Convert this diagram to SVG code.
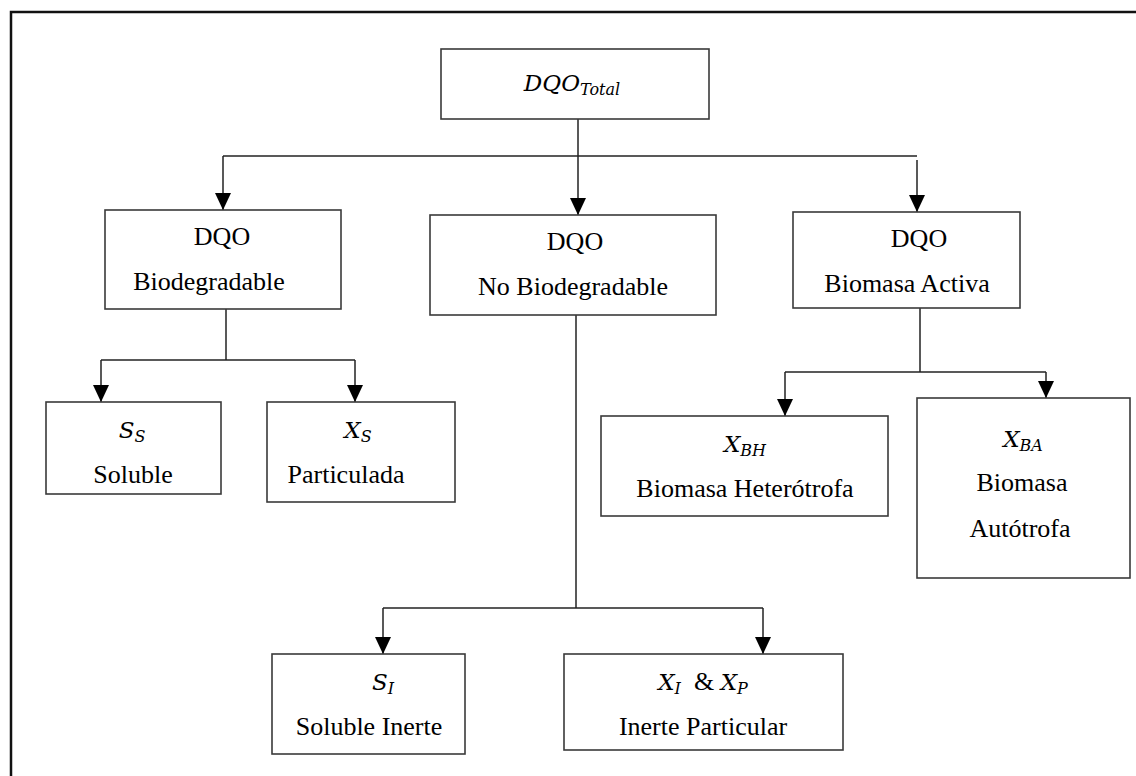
<svg xmlns="http://www.w3.org/2000/svg" width="1136" height="776" viewBox="0 0 1136 776">
  <defs>
    <marker id="arrow" viewBox="0 0 17 16" refX="17" refY="8" markerWidth="17" markerHeight="16" markerUnits="userSpaceOnUse" orient="auto">
      <path d="M0,0 L17,8 L0,16 z" fill="#000"/>
    </marker>
    <style>
      .frame { fill: none; stroke: #111; stroke-width: 2.5; }
      .box { fill: #fff; stroke: #3a3a3a; stroke-width: 1.6; }
      .wire { fill: none; stroke: #222; stroke-width: 1.5; }
      .arrow { marker-end: url(#arrow); }
      .t { font-family: "Liberation Serif", "Times New Roman", serif; font-size: 26px; fill: #000; text-anchor: middle; }
      .m { font-family: "DejaVu Serif", "Liberation Serif", serif; font-style: italic; font-size: 23px; fill: #000; text-anchor: middle; }
      .sub { font-size: 16px; }
      .amp { font-family: "Liberation Serif", "Times New Roman", serif; font-style: normal; font-size: 26px; }
    </style>
  </defs>

  <rect width="1136" height="776" fill="#fff"/>
  <!-- page frame, open on the right and bottom -->
  <path class="frame" d="M11,778 V12 H1140"/>

  <g id="connectors">
    <!-- total split -->
    <path class="wire" d="M578,119 V156"/>
    <path class="wire" d="M223,156 H917"/>
    <path class="wire arrow" d="M223,156 V210"/>
    <path class="wire arrow" d="M578,156 V215"/>
    <path class="wire arrow" d="M917,160 V212"/>
    <!-- biodegradable split -->
    <path class="wire" d="M226,309 V360"/>
    <path class="wire" d="M101,360 H355"/>
    <path class="wire arrow" d="M101,360 V402"/>
    <path class="wire arrow" d="M355,360 V402"/>
    <!-- non-biodegradable split -->
    <path class="wire" d="M576,315 V608"/>
    <path class="wire" d="M383,608 H763"/>
    <path class="wire arrow" d="M383,608 V654"/>
    <path class="wire arrow" d="M763,608 V654"/>
    <!-- active biomass split -->
    <path class="wire" d="M920,308 V372"/>
    <path class="wire" d="M785,372 H1046"/>
    <path class="wire arrow" d="M785,372 V416"/>
    <path class="wire arrow" d="M1046,372 V398"/>
  </g>

  <g id="dqo-total">
    <rect class="box" x="441" y="49" width="268" height="70"/>
    <text class="m" x="572" y="91">DQO<tspan class="sub" dy="4">Total</tspan></text>
  </g>

  <g id="dqo-biodegradable">
    <rect class="box" x="105" y="210" width="236" height="99"/>
    <text class="t" x="222" y="245">DQO</text>
    <text class="t" x="209" y="290">Biodegradable</text>
  </g>

  <g id="dqo-no-biodegradable">
    <rect class="box" x="430" y="215" width="286" height="100"/>
    <text class="t" x="575" y="250">DQO</text>
    <text class="t" x="573" y="295">No Biodegradable</text>
  </g>

  <g id="dqo-biomasa-activa">
    <rect class="box" x="793" y="212" width="227" height="96"/>
    <text class="t" x="919" y="247">DQO</text>
    <text class="t" x="907" y="292">Biomasa Activa</text>
  </g>

  <g id="ss-soluble">
    <rect class="box" x="46" y="402" width="175" height="92"/>
    <text class="m" x="132" y="438">S<tspan class="sub" dy="4">S</tspan></text>
    <text class="t" x="133" y="483">Soluble</text>
  </g>

  <g id="xs-particulada">
    <rect class="box" x="267" y="402" width="188" height="100"/>
    <text class="m" x="358" y="438">X<tspan class="sub" dy="4">S</tspan></text>
    <text class="t" x="346" y="483">Particulada</text>
  </g>

  <g id="xbh-heterotrofa">
    <rect class="box" x="601" y="416" width="287" height="100"/>
    <text class="m" x="745" y="452">X<tspan class="sub" dy="4">BH</tspan></text>
    <text class="t" x="745" y="497">Biomasa Heterótrofa</text>
  </g>

  <g id="xba-autotrofa">
    <rect class="box" x="917" y="398" width="213" height="180"/>
    <text class="m" x="1023" y="447">X<tspan class="sub" dy="4">BA</tspan></text>
    <text class="t" x="1022" y="491">Biomasa</text>
    <text class="t" x="1020" y="537">Autótrofa</text>
  </g>

  <g id="si-soluble-inerte">
    <rect class="box" x="272" y="654" width="193" height="100"/>
    <text class="m" x="383" y="690">S<tspan class="sub" dy="4">I</tspan></text>
    <text class="t" x="369" y="735">Soluble Inerte</text>
  </g>

  <g id="xi-xp-inerte-particular">
    <rect class="box" x="564" y="654" width="279" height="96"/>
    <text class="m" x="703" y="690">X<tspan class="sub" dy="4">I</tspan><tspan class="amp" dy="-4" xml:space="preserve">  &amp; </tspan>X<tspan class="sub" dy="4">P</tspan></text>
    <text class="t" x="703" y="735">Inerte Particular</text>
  </g>
</svg>
